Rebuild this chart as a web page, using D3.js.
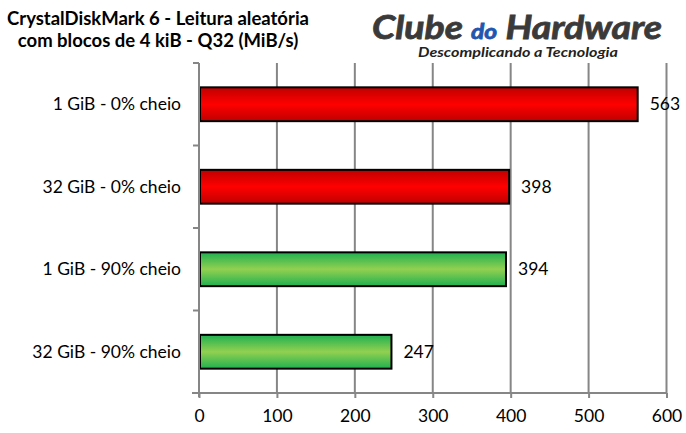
<!DOCTYPE html>
<html><head><meta charset="utf-8">
<script src="https://cdn.jsdelivr.net/npm/d3@7"></script>
<style>
body{margin:0;background:#fff;}
svg{display:block;}
text{font-family:Lato,"Open Sans",sans-serif;}
</style></head>
<body>
<script>
const categories = ["1 GiB - 0% cheio","32 GiB - 0% cheio","1 GiB - 90% cheio","32 GiB - 90% cheio"];
const values = [563, 398, 394, 247];
const colorGroups = ["red","red","green","green"];
const xTicks = [0,100,200,300,400,500,600];
const titleLines = ["CrystalDiskMark 6 - Leitura aleatória","com blocos de 4 kiB - Q32 (MiB/s)"];

const W=686,H=433;
const svg=d3.select("body").append("svg").attr("width",W).attr("height",H);
const defs=svg.append("defs");
function grad(id,edge,mid){
  const g=defs.append("linearGradient").attr("id",id).attr("x1",0).attr("y1",0).attr("x2",0).attr("y2",1);
  g.append("stop").attr("offset","0%").attr("stop-color",edge);
  g.append("stop").attr("offset","50%").attr("stop-color",mid);
  g.append("stop").attr("offset","100%").attr("stop-color",edge);
}
grad("g-red","#c00000","#ff0000");
grad("g-green","#1fb050","#92d050");

const x=d3.scaleLinear().domain([0,600]).range([199,666.5]);
const y=d3.scaleBand().domain(categories).range([63,393]).padding(0);
const barH=y.bandwidth()*0.41;

// gridlines
svg.append("g").selectAll("line").data(xTicks.filter(d=>d>0)).join("line")
  .attr("x1",d=>x(d)).attr("x2",d=>x(d)).attr("y1",63).attr("y2",393)
  .attr("stroke","#868686").attr("stroke-width",2);

// bars
svg.append("g").selectAll("rect").data(values).join("rect")
  .attr("x",x(0)+1).attr("y",(d,i)=>y(categories[i])+(y.bandwidth()-barH)/2)
  .attr("width",d=>x(d)-x(0)-1).attr("height",barH)
  .attr("fill",(d,i)=>`url(#g-${colorGroups[i]})`)
  .attr("stroke","#000").attr("stroke-width",2);

// value labels
svg.append("g").selectAll("text").data(values).join("text")
  .attr("x",d=>x(d)+12).attr("y",(d,i)=>y(categories[i])+y.bandwidth()/2)
  .attr("dy","0.35em").attr("font-size",17.5).attr("fill","#000").text(d=>d);

// x axis
const xa=svg.append("g").attr("transform","translate(0,393)")
  .call(d3.axisBottom(x).tickValues(xTicks).tickSize(5).tickPadding(12));
xa.select(".domain").attr("stroke","#868686").attr("stroke-width",2).attr("d",`M${x(0)-7},0H${x(600)}`);
xa.selectAll(".tick line").attr("stroke","#868686").attr("stroke-width",2);
xa.selectAll(".tick text").attr("font-size",17.5).attr("fill","#000").attr("font-family","Lato,sans-serif");

// y axis
const ya=svg.append("g").attr("transform",`translate(${x(0)},0)`);
ya.append("line").attr("x1",0).attr("x2",0).attr("y1",63).attr("y2",397).attr("stroke","#868686").attr("stroke-width",2);
const bounds=d3.range(categories.length+1).map(i=>63+i*y.step());
ya.selectAll("line.t").data(bounds).join("line").attr("class","t")
  .attr("x1",-6).attr("x2",0).attr("y1",d=>d).attr("y2",d=>d).attr("stroke","#868686").attr("stroke-width",2);
ya.selectAll("text").data(categories).join("text")
  .attr("x",-18).attr("y",d=>y(d)+y.bandwidth()/2).attr("dy","0.35em")
  .attr("text-anchor","end").attr("font-size",17.5).attr("fill","#000").text(d=>d);

// title
svg.append("g").selectAll("text").data(titleLines).join("text")
  .attr("x",158).attr("y",(d,i)=>25+i*22).attr("text-anchor","middle")
  .attr("font-size",18.5).attr("font-weight","bold").attr("fill","#000").text(d=>d);

// logo
const logo=svg.append("text").attr("x",517).attr("y",39).attr("text-anchor","middle")
  .attr("font-family","'DejaVu Sans',sans-serif").attr("font-weight","bold").attr("font-style","italic")
  .attr("font-size",32).attr("fill","#3a3a3a").attr("stroke","#3a3a3a").attr("stroke-width",0.8)
  .attr("textLength",290).attr("lengthAdjust","spacingAndGlyphs");
logo.append("tspan").text("Clube ");
logo.append("tspan").attr("fill","#1f56b0").attr("stroke","#1f56b0").attr("font-size",21).text("do");
logo.append("tspan").text(" Hardware");
svg.append("text").attr("x",518).attr("y",57).attr("text-anchor","middle")
  .attr("font-family","'Liberation Sans',Arial,sans-serif").attr("font-weight","bold").attr("font-style","italic")
  .attr("font-size",12.5).attr("fill","#222").attr("textLength",200).attr("lengthAdjust","spacingAndGlyphs")
  .text("Descomplicando a Tecnologia");
</script>
</body></html>
